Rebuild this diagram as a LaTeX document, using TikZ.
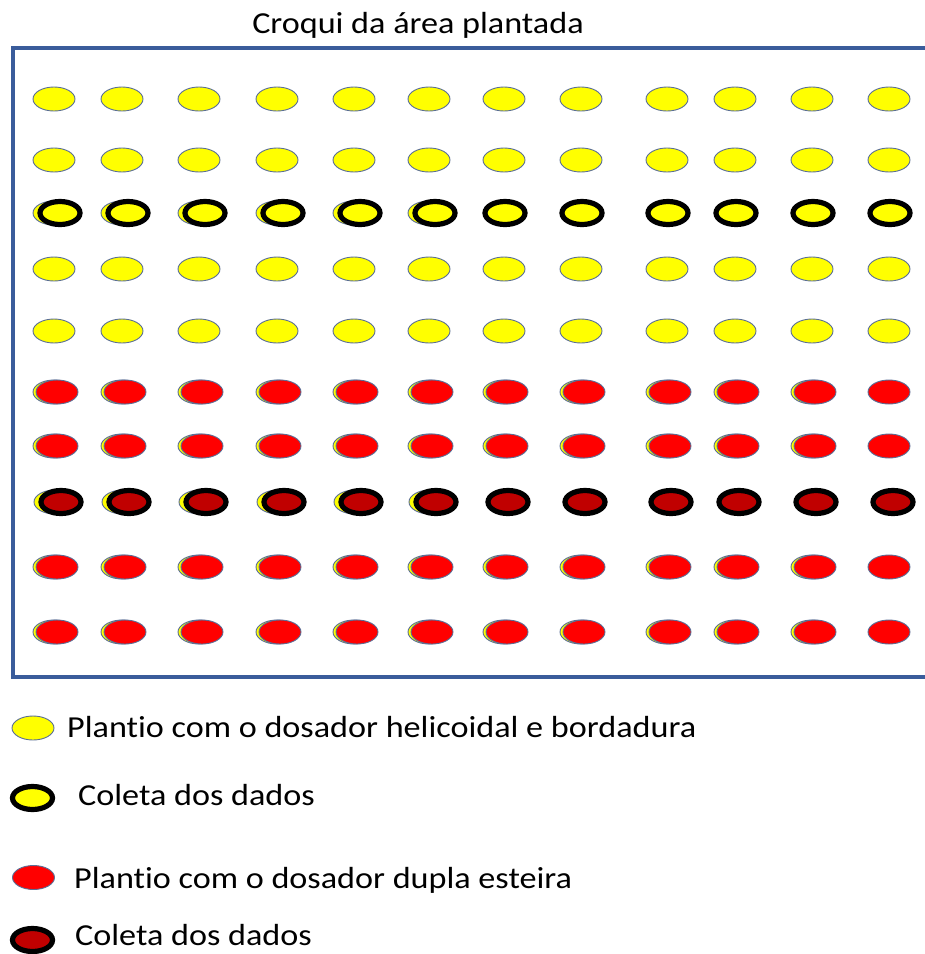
\documentclass[tikz,border=0pt]{standalone}
\usepackage{fontspec}
\setmainfont{Carlito}[FakeStretch=1.12,Ligatures=NoCommon]
\definecolor{edgeblue}{RGB}{90,110,150}
\definecolor{framecol}{RGB}{58,92,155}
\definecolor{plyellow}{RGB}{255,255,0}
\definecolor{plred}{RGB}{255,0,0}
\definecolor{pldark}{RGB}{192,0,0}
\begin{document}
\begin{tikzpicture}[x=1pt,y=-1pt,
  plant/.style={draw=edgeblue,line width=0.9pt},
  ringed/.style={draw=black,line width=5.2pt},
  lbl/.style={anchor=base west,inner sep=0pt,font=\fontsize{30.5}{36}\selectfont},
  frameline/.style={draw=framecol,line width=3.5pt}]
\useasboundingbox (0,0) rectangle (925,954);
% frame
\draw[frameline] (945,48) -- (13,48) -- (13,677) -- (945,677);
% title
\node[anchor=base,inner sep=0pt,font=\fontsize{30.5}{36}\selectfont] (title) at (418,33) {Croqui da área plantada};
% yellow rows
\foreach \y in {99,160,269,331}{
  \foreach \c in {54,122,199,277,354,429,504,581,667,735,812,889}{
    \draw[plant,fill=plyellow] (\c,\y) ellipse [x radius=21,y radius=12];
  }
}
% yellow collected row
\foreach \c in {54,122,199,277,354,429}{
  \draw[plant,fill=plyellow] (\c,213) ellipse [x radius=21,y radius=12];
  \draw[ringed,fill=plyellow] (\c+6,213) ellipse [x radius=20,y radius=11.5];
}
\foreach \c in {504,581,667,735,812,889}{
  \draw[ringed,fill=plyellow] (\c+1,213) ellipse [x radius=20,y radius=11.5];
}
% red rows
\foreach \y in {392,446,567,632}{
  \foreach \c in {54,122,199,277,354,429,504,581,667,735,812}{
    \draw[plant,fill=plyellow] (\c,\y) ellipse [x radius=21,y radius=12];
    \draw[plant,fill=plred] (\c+3,\y) ellipse [x radius=21,y radius=12];
  }
  \draw[plant,fill=plred] (889,\y) ellipse [x radius=21,y radius=12];
}
% dark red collected row
\foreach \c in {54,122,199,277,354,429}{
  \draw[plant,fill=plyellow] (\c+1,502) ellipse [x radius=21,y radius=12];
  \draw[ringed,fill=pldark] (\c+7,502) ellipse [x radius=20,y radius=11.5];
}
\foreach \c in {504,581,667,735,812,889}{
  \draw[ringed,fill=pldark] (\c+4,502) ellipse [x radius=20,y radius=11.5];
}
% legend
\draw[plant,fill=plyellow] (33,728) ellipse [x radius=21,y radius=12];
\node[lbl] (l1) at (67,737) {Plantio com o dosador helicoidal e bordadura};
\draw[ringed,fill=plyellow] (32.5,798) ellipse [x radius=20,y radius=11.5];
\node[lbl] (l2) at (78,805) {Coleta dos dados};
\draw[plant,fill=plred] (33.5,877.5) ellipse [x radius=21,y radius=12];
\node[lbl] (l3) at (74,888) {Plantio com o dosador dupla esteira};
\draw[ringed,fill=pldark] (32.5,940) ellipse [x radius=20,y radius=11.5];
\node[lbl] (l4) at (75,945) {Coleta dos dados};
\end{tikzpicture}
\end{document}
